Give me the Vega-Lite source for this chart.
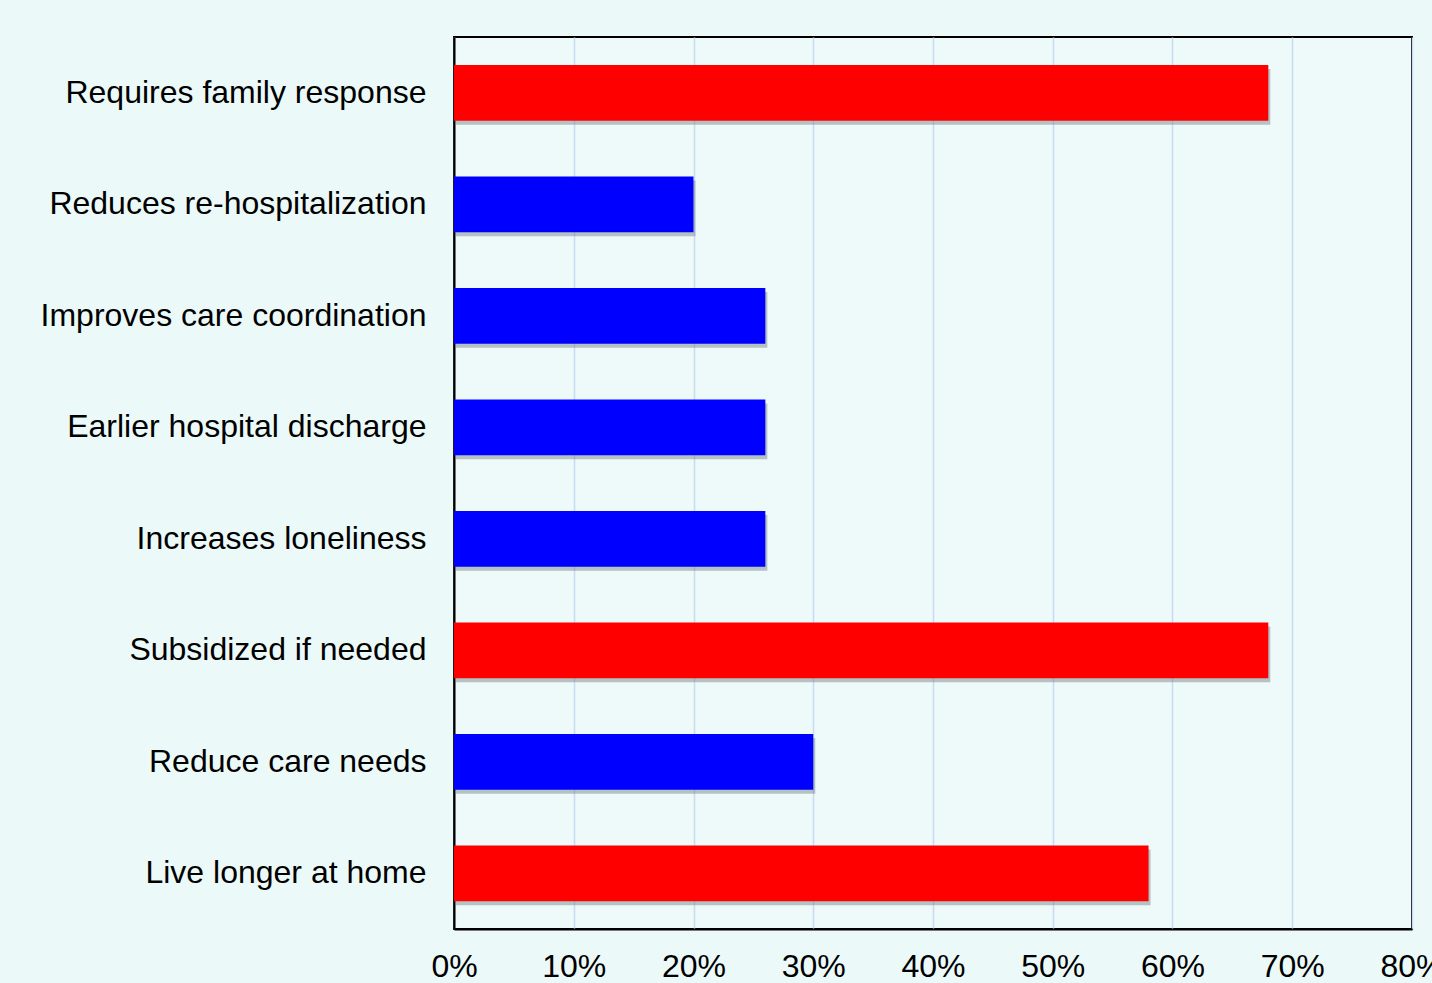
{
  "$schema": "https://vega.github.io/schema/vega-lite/v6.json",
  "autosize": {"type": "none"},
  "width": 958,
  "height": 892,
  "padding": {"left": 454, "top": 37, "right": 20, "bottom": 54},
  "background": "#ecf9f9",
  "config": {
    "view": {"stroke": "#000000", "strokeWidth": 2, "fill": "#eefafa"},
    "axis": {"labelFont": "Liberation Sans", "labelFontSize": 32, "labelColor": "#000000"}
  },
  "data": {
    "values": [
      {"item": "Requires family response", "value": 0.68, "group": "A"},
      {"item": "Reduces re-hospitalization", "value": 0.20, "group": "B"},
      {"item": "Improves care coordination", "value": 0.26, "group": "B"},
      {"item": "Earlier hospital discharge", "value": 0.26, "group": "B"},
      {"item": "Increases loneliness", "value": 0.26, "group": "B"},
      {"item": "Subsidized if needed", "value": 0.68, "group": "A"},
      {"item": "Reduce care needs", "value": 0.30, "group": "B"},
      {"item": "Live longer at home", "value": 0.58, "group": "A"}
    ]
  },
  "encoding": {
    "y": {
      "field": "item", "type": "nominal", "sort": null,
      "scale": {"paddingInner": 0.5, "paddingOuter": 0.25},
      "axis": {"title": null, "ticks": false, "domain": true, "domainColor": "#000000", "domainWidth": 2, "labelPadding": 28, "grid": false, "labelLimit": 600}
    },
    "x": {
      "field": "value", "type": "quantitative",
      "scale": {"domain": [0, 0.8], "nice": false},
      "axis": {"title": null, "format": ".0%", "values": [0, 0.1, 0.2, 0.3, 0.4, 0.5, 0.6, 0.7, 0.8], "labelOverlap": false, "ticks": false, "domain": true, "domainColor": "#000000", "domainWidth": 2, "labelPadding": 22, "grid": true, "gridColor": "#c6dcf2", "gridWidth": 1.5, "labelFlush": false}
    }
  },
  "layer": [
    {
      "mark": {"type": "bar", "color": "#6f7f80", "opacity": 0.45, "yOffset": 4, "xOffset": 2}
    },
    {
      "mark": {"type": "bar"},
      "encoding": {
        "color": {"field": "group", "type": "nominal", "scale": {"domain": ["A", "B"], "range": ["#ff0000", "#0000ff"]}, "legend": null}
      }
    }
  ]
}
